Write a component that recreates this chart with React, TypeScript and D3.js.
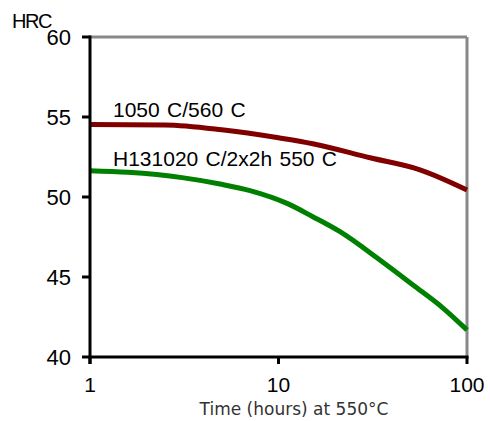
import React from "react";
import * as d3 from "d3";

const W = 490;
const H = 421;

const yTicks = [40, 45, 50, 55, 60];
const xTicks = [1, 10, 100];

const redHours = [1, 2.5, 5, 10, 15.2, 30.6, 56.3, 100];
const redHRC = [54.53, 54.5, 54.2, 53.7, 53.33, 52.45, 51.7, 50.44];

const greenHours = [1, 1.59, 3.08, 4.9, 7.06, 11.1, 15.2, 21.2, 34.5, 51.7, 74.6, 100];
const greenHRC = [51.64, 51.54, 51.21, 50.81, 50.4, 49.6, 48.77, 47.83, 46.06, 44.5, 43.06, 41.69];

const redLabel = "1050 C/560 C";
const greenLabel = "H131020 C/2x2h 550 C";
const yTitle = "HRC";
const xTitle = "Time (hours) at 550°C";

export default function App() {
  const left = 90, right = 467, top = 37, bottom = 357;
  const x = d3.scaleLog().domain([1, 100]).range([left, right]);
  const y = d3.scaleLinear().domain([40, 60]).range([bottom, top]);

  const line = d3
    .line<[number, number]>()
    .x((d) => x(d[0]))
    .y((d) => y(d[1]))
    .curve(d3.curveMonotoneX);

  const red = line(redHours.map((h, i) => [h, redHRC[i]] as [number, number])) || "";
  const green = line(greenHours.map((h, i) => [h, greenHRC[i]] as [number, number])) || "";

  const font = "Arial, 'Liberation Sans', Helvetica, sans-serif";

  return (
    <svg
      width={W}
      height={H}
      style={{ position: "absolute", left: 0, top: 0, background: "#fff" }}
      fontFamily={font}
    >
      <rect x={0} y={0} width={W} height={H} fill="#fff" />
      <line x1={left} x2={right} y1={top} y2={top} stroke="#888" strokeWidth={3} />
      <line x1={right} x2={right} y1={top} y2={bottom} stroke="#888" strokeWidth={3} />
      <path d={red} fill="none" stroke="#800000" strokeWidth={5} strokeLinejoin="round" />
      <path d={green} fill="none" stroke="#008000" strokeWidth={5} strokeLinejoin="round" />
      <line x1={left} x2={left} y1={top - 1.5} y2={bottom + 7} stroke="#000" strokeWidth={3} />
      <line x1={left - 1.5} x2={right + 1.5} y1={bottom} y2={bottom} stroke="#000" strokeWidth={3} />
      {yTicks.map((t) => (
        <g key={"y" + t}>
          <line x1={left - 8} x2={left} y1={y(t)} y2={y(t)} stroke="#000" strokeWidth={3} />
          <text x={71} y={y(t)} dy="0.36em" textAnchor="end" fontSize={22} fill="#000">
            {t}
          </text>
        </g>
      ))}
      {xTicks.map((t) => (
        <g key={"x" + t}>
          <line x1={x(t)} x2={x(t)} y1={bottom} y2={bottom + 7} stroke="#000" strokeWidth={3} />
          <text x={x(t)} y={392} textAnchor="middle" fontSize={21} fill="#000">
            {t}
          </text>
        </g>
      ))}
      <text x={12} y={28} fontSize={20} letterSpacing={-1.5} fill="#000">
        {yTitle}
      </text>
      <text x={113} y={117} fontSize={21} wordSpacing={1.5} fill="#000">
        {redLabel}
      </text>
      <text x={113} y={166} fontSize={21} wordSpacing={1.5} fill="#000">
        {greenLabel}
      </text>
      <text x={294} y={415} textAnchor="middle" fontSize={17} fill="#333" fontFamily="'DejaVu Sans', sans-serif">
        {xTitle}
      </text>
    </svg>
  );
}
